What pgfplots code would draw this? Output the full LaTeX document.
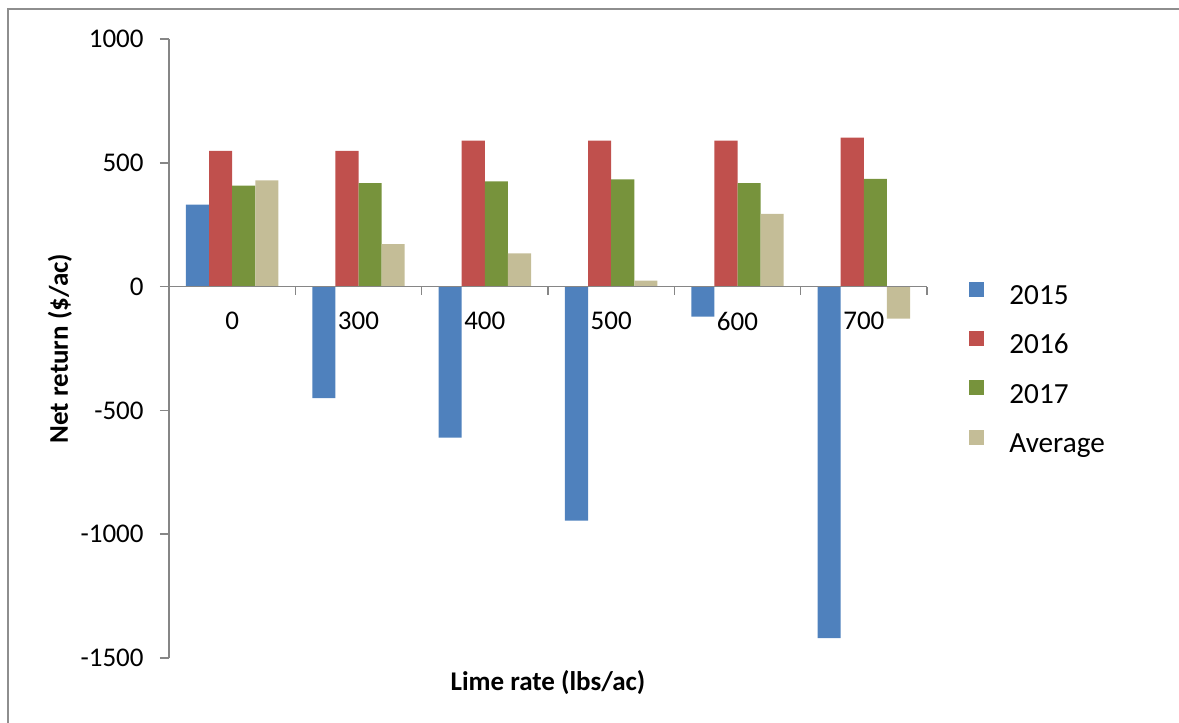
\documentclass[border=0pt]{standalone}
\usepackage{fontspec}
\setmainfont{Carlito}
\usepackage{pgfplots}
\pgfplotsset{compat=1.18}

\definecolor{c2015}{HTML}{4F81BD}
\definecolor{c2016}{HTML}{C0504D}
\definecolor{c2017}{HTML}{77933C}
\definecolor{cavg}{HTML}{C4BD97}
\definecolor{axgray}{HTML}{868686}
\definecolor{framegray}{HTML}{8E8E8E}

\newcommand{\chartfont}{\fontsize{13.5bp}{16bp}\selectfont}
\newcommand{\legfont}{\fontsize{14.6bp}{17bp}\selectfont}

\begin{document}
\begin{tikzpicture}
\begin{axis}[
  at={(0,0)}, anchor=south west,
  scale only axis, width=379bp, height=309.5bp,
  xmin=-0.5, xmax=5.5, ymin=-1500, ymax=1000,
  ybar=0pt, bar width=0.183,
  axis x line*=middle, axis y line*=left,
  axis on top,
  axis line style={draw=axgray, line width=0.75bp},
  hide obscured x ticks=false, hide obscured y ticks=false,
  xtick={0,...,5}, xticklabels={0,300,400,500,600,700},
  minor xtick={-0.5,0.5,1.5,2.5,3.5,4.5,5.5},
  major x tick style={draw=none},
  tick style={draw=axgray, line width=0.75bp},
  tick align=outside,
  major tick length=4.5bp, minor tick length=4bp,
  ytick={-1500,-1000,-500,0,500,1000},
  yticklabels={-1500,-1000,-500,0,500,1000},
  tick label style={font=\chartfont, inner sep=0pt},
  xticklabel style={anchor=north, yshift=-8bp},
  yticklabel style={anchor=east, xshift=-8bp},
  xlabel={Lime rate (lbs/ac)},
  ylabel={Net return (\$/ac)},
  label style={font=\chartfont\bfseries},
  xlabel style={at={(axis description cs:0.5,-0.0404)}, anchor=center},
  ylabel style={at={(axis description cs:-0.1438,0.5)}, anchor=center, rotate=0},
  legend style={at={(1.0554,0.465)}, anchor=west, draw=none, fill=none,
    inner sep=0pt, font=\legfont, row sep=10.3bp,
    /tikz/column sep=12.5bp,
    nodes={inner sep=0pt, text height=9bp, text depth=3bp}},
  legend cell align=left,
  legend image code/.code={\fill (0bp,0.85bp) rectangle (7.5bp,8.35bp);},
]
\addplot[fill=c2015, draw=none] coordinates {(0,331) (1,-450) (2,-610) (3,-945) (4,-121) (5,-1420)};
\addplot[fill=c2016, draw=none] coordinates {(0,548) (1,548) (2,590) (3,590) (4,590) (5,602)};
\addplot[fill=c2017, draw=none] coordinates {(0,408) (1,418) (2,425) (3,433) (4,418) (5,435)};
\addplot[fill=cavg, draw=none] coordinates {(0,429) (1,172) (2,134) (3,24) (4,294) (5,-129)};
\legend{2015,2016,2017,Average}
\end{axis}
\draw[framegray, line width=0.75bp] (-80.5bp,-40bp) -- (-80.5bp,324.5bp) -- (510bp,324.5bp);
\pgfresetboundingbox
\path[use as bounding box] (-84.5bp,-32.5bp) rectangle (505bp,329bp);
\end{tikzpicture}
\end{document}
